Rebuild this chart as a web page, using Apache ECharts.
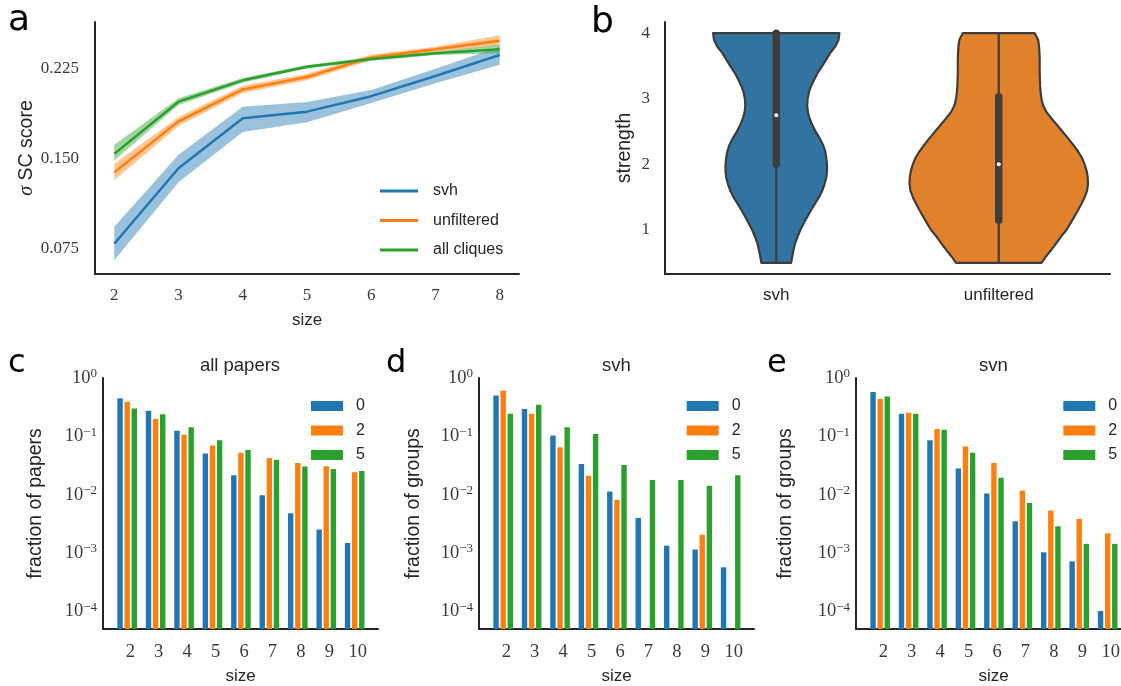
<!DOCTYPE html>
<html><head><meta charset="utf-8">
<script src="https://cdn.jsdelivr.net/npm/echarts@6/dist/echarts.min.js"></script>
<style>html,body{margin:0;padding:0;background:#fff}#c{width:1121px;height:686px}</style>
</head><body><div id="c"></div><script>
// ---------- Panel a ----------
const sizesA = [2,3,4,5,6,7,8];
const sizeTicksA = [2,3,4,5,6,7,8];
const scoreTicks = [0.075,0.150,0.225];
const svhMean = [0.0788,0.1417,0.1833,0.1889,0.2018,0.2186,0.2361];
const svhLo   = [0.0650,0.1300,0.1720,0.1800,0.1960,0.2126,0.2280];
const svhHi   = [0.0930,0.1530,0.1930,0.1970,0.2070,0.2246,0.2430];
const unfMean = [0.1383,0.1808,0.2074,0.2178,0.2341,0.2408,0.2480];
const unfLo   = [0.1317,0.1770,0.2045,0.2150,0.2318,0.2388,0.2440];
const unfHi   = [0.1455,0.1845,0.2105,0.2205,0.2366,0.2430,0.2525];
const allMean = [0.1537,0.1972,0.2150,0.2263,0.2327,0.2375,0.2408];
const allLo   = [0.1481,0.1945,0.2130,0.2248,0.2312,0.2360,0.2375];
const allHi   = [0.1614,0.2000,0.2170,0.2278,0.2342,0.2390,0.2445];
const lineNames = ['svh','unfiltered','all cliques'];

// ---------- Panel b ----------
const violinCats = ['svh','unfiltered'];
const strengthTicks = [1,2,3,4];
const violinLevels = [4.0,3.9,3.8,3.7,3.6,3.5,3.4,3.3,3.2,3.1,3.0,2.9,2.8,2.7,2.6,2.5,2.4,2.3,2.2,2.1,2.0,1.9,1.8,1.7,1.6,1.5,1.4,1.3,1.2,1.1,1.0,0.9,0.8,0.7,0.6,0.5];
const svhHalfWidth = [0.284,0.280,0.266,0.243,0.225,0.207,0.187,0.172,0.157,0.147,0.141,0.139,0.142,0.150,0.162,0.177,0.195,0.210,0.220,0.225,0.228,0.228,0.225,0.217,0.207,0.192,0.174,0.156,0.139,0.123,0.108,0.096,0.085,0.078,0.072,0.067];
const unfHalfWidth = [0.162,0.177,0.181,0.183,0.184,0.184,0.184,0.185,0.186,0.188,0.192,0.199,0.214,0.237,0.262,0.286,0.311,0.334,0.356,0.374,0.386,0.395,0.400,0.401,0.397,0.386,0.372,0.356,0.339,0.322,0.304,0.280,0.259,0.237,0.213,0.192];
const boxQ1 = [2.0, 1.15];
const boxQ3 = [4.0, 3.03];
const boxMedian = [2.75, 2.0];
const whiskerLo = [0.5, 0.5];
const whiskerHi = [4.0, 4.0];

// ---------- Panels c, d, e ----------
const sizesBar = [2,3,4,5,6,7,8,9,10];
const barNames = ['0','2','5'];
const logTicks = [-4,-3,-2,-1,0];
const allPapers0 = [0.45,0.275,0.125,0.0506,0.0215,0.0098,0.0048,0.00252,0.00149];
const allPapers2 = [0.39,0.20,0.107,0.070,0.0526,0.0427,0.035,0.0307,0.0242];
const allPapers5 = [0.30,0.24,0.143,0.0855,0.0585,0.0394,0.0303,0.0276,0.0255];
const svh0 = [0.50,0.294,0.103,0.0337,0.0113,0.0040,0.00134,0.00115,0.00057];
const svh2 = [0.61,0.245,0.065,0.0212,0.0082,null,null,0.00207,null];
const svh5 = [0.245,0.349,0.143,0.110,0.0324,0.0179,0.0179,0.0143,0.0215];
const svn0 = [0.575,0.245,0.0855,0.028,0.01045,0.0035,0.00103,0.00072,0.000102];
const svn2 = [0.436,0.255,0.134,0.0667,0.035,0.0117,0.00534,0.00385,0.00218];
const svn5 = [0.484,0.245,0.130,0.0526,0.0196,0.00723,0.00288,0.00144,0.00144];

// ---------- styling ----------
const COLORS = ['#1f77b4','#ff7f0e','#2ca02c'];
const VCOLORS = ['#3274a1','#e1812c'];
const SANS = 'Liberation Sans';
const SERIF = 'Liberation Serif';
const INK = '#262626';
const TICKC = '#3a3a3a';
const LOG_MIN = Math.log10(5e-5);
const BAR_W = 0.19;
const BAR_OFF = [-0.36, -0.11, 0.14];

const chart = echarts.init(document.getElementById('c'), null, {renderer:'canvas'});

const spine = {show:true, onZero:false, lineStyle:{color:INK, width:2}};
function baseAxis(extra){
  return Object.assign({
    axisLine: spine, axisTick:{show:false}, splitLine:{show:false},
    nameTextStyle:{fontFamily:SANS, fontSize:17, color:INK}
  }, extra);
}
const yNameStyle = {fontFamily:SANS, fontSize:19.5, color:INK};
const serifLabel = {fontFamily:SERIF, fontSize:17, color:TICKC};
const serifLabelBig = {fontFamily:SERIF, fontSize:18.5, color:TICKC};
const supRich = {
  b:{fontFamily:SERIF, fontSize:18.5, color:TICKC, lineHeight:21},
  s:{fontFamily:SERIF, fontSize:13, color:TICKC, verticalAlign:'top', lineHeight:13}
};
function logFmt(v){
  const e = Math.round(v);
  return '{b|10}{s|' + (e < 0 ? '\u2212' + (-e) : String(e)) + '}';
}

const grids = [
  {left:95, top:22, width:424, height:252},
  {left:665, top:22, width:445, height:252},
  {left:103, top:378, width:275, height:251},
  {left:479, top:378, width:275, height:251},
  {left:856, top:378, width:275, height:251}
].map(g => Object.assign({containLabel:false, outerBoundsMode:'none'}, g));

const xAxes = [
  baseAxis({gridIndex:0, type:'value', min:1.7, max:8.3,
    axisLabel:Object.assign({customValues:sizeTicksA, margin:13}, serifLabel),
    name:'size', nameLocation:'middle', nameGap:38}),
  baseAxis({gridIndex:1, type:'category', data:violinCats, boundaryGap:true,
    axisLabel:{fontFamily:SANS, fontSize:17, color:INK, margin:13}})
];
const yAxes = [
  baseAxis({gridIndex:0, type:'value', min:0.0536, max:0.2636,
    axisLabel:Object.assign({customValues:scoreTicks, margin:16, formatter:v=>v.toFixed(3)}, serifLabel),
    name:'{i|\u03c3} SC score', nameLocation:'middle', nameGap:57, nameRotate:90,
    nameTextStyle:Object.assign({rich:{i:{fontFamily:SERIF, fontStyle:'italic', fontSize:20, color:INK}}}, yNameStyle)}),
  baseAxis({gridIndex:1, type:'value', min:0.329, max:4.17,
    axisLabel:Object.assign({customValues:strengthTicks, margin:15}, serifLabel),
    name:'strength', nameLocation:'middle', nameGap:30, nameRotate:90, nameTextStyle:yNameStyle})
];
const barYNames = ['fraction of papers','fraction of groups','fraction of groups'];
const barYGaps = [57, 55, 60];
for (let k=0;k<3;k++){
  xAxes.push(baseAxis({gridIndex:2+k, type:'value', min:1.04, max:10.71,
    axisLabel:Object.assign({customValues:sizesBar, margin:14}, serifLabelBig),
    name:'size', nameLocation:'middle', nameGap:39}));
  yAxes.push(baseAxis({gridIndex:2+k, type:'value', min:LOG_MIN, max:0,
    axisLabel:{customValues:logTicks, margin:6, formatter:logFmt, rich:supRich},
    name:barYNames[k], nameLocation:'middle', nameGap:barYGaps[k], nameRotate:90, nameTextStyle:yNameStyle}));
}

const series = [];
// Panel a: confidence bands (one polygon each) + mean lines
const lineSets = [[svhMean,svhLo,svhHi],[unfMean,unfLo,unfHi],[allMean,allLo,allHi]];
lineSets.forEach((set,k)=>{
  const [mean, lo, hi] = set;
  series.push({type:'custom', name:'_band'+k, xAxisIndex:0, yAxisIndex:0, silent:true, animation:false,
    data:sizesA.map((s,i)=>[s, lo[i], hi[i]]), encode:{x:0, y:[1,2]},
    renderItem: function(params, api){
      if (params.dataIndexInside !== 0) return;
      const n = params.dataInsideLength;
      const up = [], dn = [];
      for (let j=0;j<n;j++){
        const x = api.value(0, j);
        up.push(api.coord([x, api.value(2, j)]));
        dn.push(api.coord([x, api.value(1, j)]));
      }
      return {type:'polygon', shape:{points:up.concat(dn.reverse())},
        style:{fill:COLORS[k], opacity:0.45}};
    }});
  series.push({type:'line', name:lineNames[k], xAxisIndex:0, yAxisIndex:0,
    data:sizesA.map((s,i)=>[s, mean[i]]), symbol:'none', showSymbol:false, color:COLORS[k],
    lineStyle:{width:2.5, color:COLORS[k]}, itemStyle:{color:COLORS[k]}, animation:false});
});

// Panel b: violins
series.push({
  type:'custom', name:'violin', xAxisIndex:1, yAxisIndex:1, animation:false, silent:true,
  data: violinCats.map((c,i)=>[c, boxMedian[i]]),
  renderItem: function(params, api){
    const i = params.dataIndex;
    const hw = i === 0 ? svhHalfWidth : unfHalfWidth;
    const band = api.size([1,0])[0];
    const cx = api.coord([api.value(0), violinLevels[0]])[0];
    const left = [], right = [];
    violinLevels.forEach((lv,j)=>{
      const y = api.coord([api.value(0), lv])[1];
      left.push([cx - hw[j]*band, y]);
      right.push([cx + hw[j]*band, y]);
    });
    const pts = left.concat(right.reverse());
    const yLo = api.coord([api.value(0), whiskerLo[i]])[1];
    const yHi = api.coord([api.value(0), whiskerHi[i]])[1];
    const yQ1 = api.coord([api.value(0), boxQ1[i]])[1];
    const yQ3 = api.coord([api.value(0), boxQ3[i]])[1];
    const yM = api.coord([api.value(0), boxMedian[i]])[1];
    return {type:'group', children:[
      {type:'polygon', shape:{points:pts}, style:{fill:VCOLORS[i], stroke:'#3d3d3d', lineWidth:2.2, lineJoin:'round'}},
      {type:'line', shape:{x1:cx, y1:yLo, x2:cx, y2:yHi}, style:{stroke:'#3d3d3d', lineWidth:2.2}},
      {type:'line', shape:{x1:cx, y1:yQ1, x2:cx, y2:yQ3}, style:{stroke:'#3d3d3d', lineWidth:7.5, lineCap:'round'}},
      {type:'circle', shape:{cx:cx, cy:yM, r:2}, style:{fill:'#ffffff'}}
    ]};
  }
});

// Panels c, d, e: bars
const barSets = [[allPapers0,allPapers2,allPapers5],[svh0,svh2,svh5],[svn0,svn2,svn5]];
barSets.forEach((set,p)=>{
  set.forEach((vals,k)=>{
    const data = [];
    sizesBar.forEach((s,i)=>{ if (vals[i] != null) data.push([s, Math.log10(vals[i])]); });
    const off = BAR_OFF[k];
    series.push({
      type:'custom', name:barNames[k], xAxisIndex:2+p, yAxisIndex:2+p, animation:false,
      itemStyle:{color:COLORS[k]}, color:COLORS[k], data:data, clip:true,
      encode:{x:0, y:1},
      renderItem: function(params, api){
        const x = api.value(0) + off;
        const v = api.value(1);
        const p1 = api.coord([x - BAR_W/2, v]);
        const p2 = api.coord([x + BAR_W/2, LOG_MIN]);
        return {type:'rect', shape:{x:p1[0], y:p1[1], width:p2[0]-p1[0], height:p2[1]-p1[1]},
          style:{fill:COLORS[k]}};
      }
    });
  });
});

const legends = [
  {left:375, top:178, orient:'vertical', data:lineNames, icon:'rect', itemWidth:38, itemHeight:3, itemGap:13.5,
   textStyle:{fontFamily:SANS, fontSize:16, color:INK, lineHeight:16, padding:[0,0,0,10]}, selectedMode:false}
];
[306, 681.7, 1058.3].forEach(l=>{
  legends.push({left:l, top:393, orient:'vertical', data:barNames, icon:'rect', itemWidth:32, itemHeight:10, itemGap:8.5,
    textStyle:{fontFamily:SANS, fontSize:16, color:INK, lineHeight:16, padding:[0,0,0,8]}, selectedMode:false});
});

const letter = (t,x,y,size)=>({type:'text', x:x, y:y, silent:true,
  style:{text:t, font:size+'px "DejaVu Sans"', fill:'#000', verticalAlign:'middle', align:'left'}});
const ptitle = (t,x,y)=>({type:'text', x:x, y:y, silent:true,
  style:{text:t, font:'18.5px "'+SANS+'"', fill:INK, verticalAlign:'middle', align:'center'}});

chart.setOption({
  animation:false,
  backgroundColor:'#ffffff',
  grid:grids, xAxis:xAxes, yAxis:yAxes, series:series, legend:legends,
  graphic:[
    letter('a', 8, 21, 36), letter('b', 591, 23, 36),
    letter('c', 8, 364, 32), letter('d', 386, 364, 32), letter('e', 767, 364, 32),
    ptitle('all papers', 240, 366), ptitle('svh', 616.5, 366), ptitle('svn', 993.5, 366)
  ]
});
</script></body></html>
